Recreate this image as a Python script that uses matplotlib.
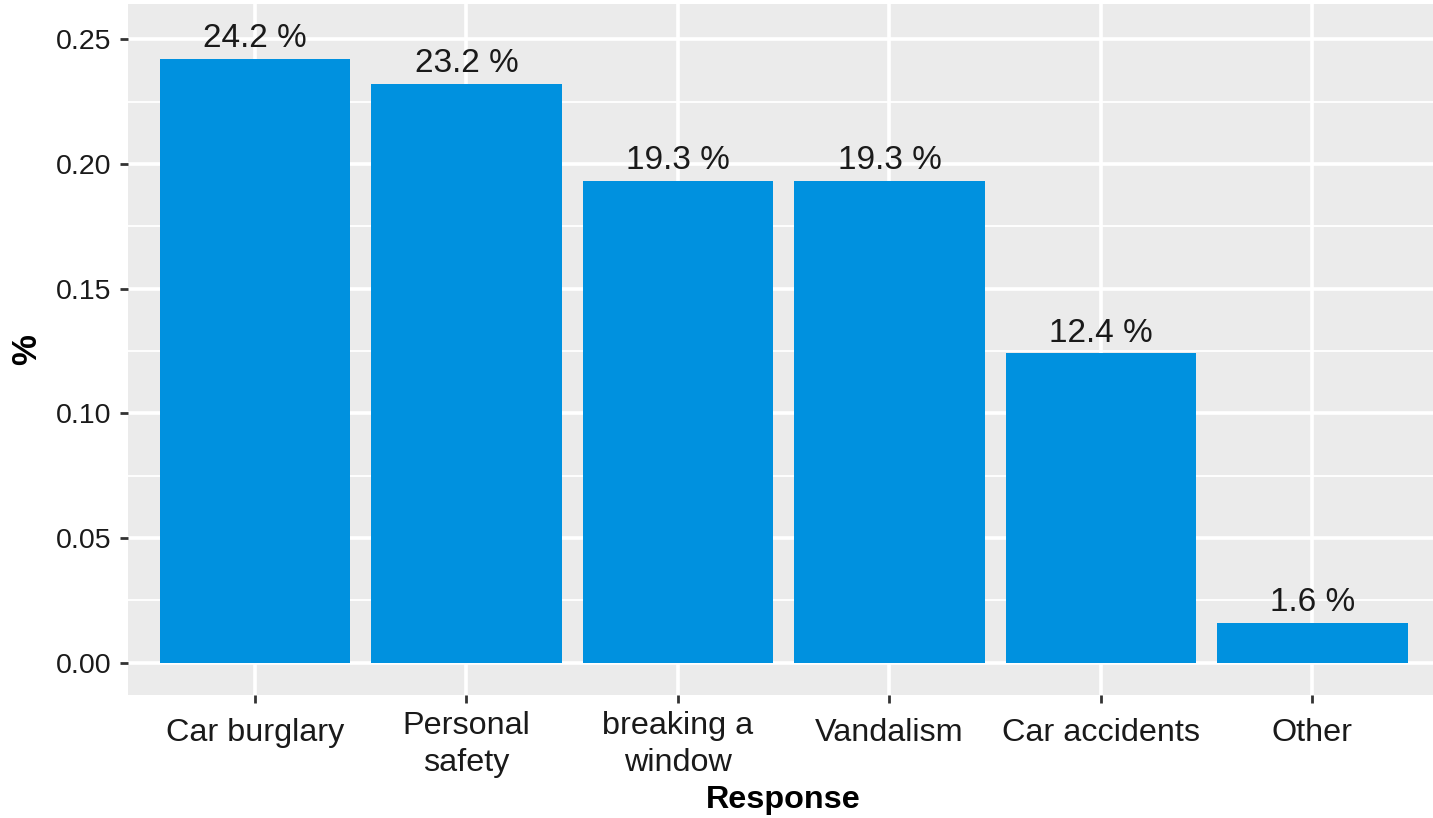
import matplotlib
matplotlib.use("Agg")
import matplotlib.pyplot as plt
from matplotlib.ticker import MultipleLocator
from matplotlib.transforms import ScaledTranslation

categories = ["Car burglary", "Personal\nsafety", "breaking a\nwindow", "Vandalism", "Car accidents", "Other"]
values = [0.242, 0.232, 0.193, 0.193, 0.124, 0.016]
labels = ["24.2 %", "23.2 %", "19.3 %", "19.3 %", "12.4 %", "1.6 %"]
yticks = [0.00, 0.05, 0.10, 0.15, 0.20, 0.25]
ytick_labels = ["0.00", "0.05", "0.10", "0.15", "0.20", "0.25"]

plt.rcParams['font.family'] = ['Liberation Sans', 'DejaVu Sans']

W, H = 1433, 818
fig = plt.figure(figsize=(W / 100, H / 100), dpi=100)
left, right, bottom, top = 128, 1439.4, 695, 4
ax = fig.add_axes([left / W, (H - bottom) / H, (right - left) / W, (bottom - top) / H])
ax.set_facecolor("#EBEBEB")

x = list(range(1, len(categories) + 1))
ax.bar(x, values, width=0.9, color="#0091DF", zorder=3)
for xi, v, lab in zip(x, values, labels):
    ax.annotate(lab, (xi, v), xytext=(0, 8.6), textcoords="offset points",
                ha="center", va="baseline", fontsize=24, color="#1a1a1a", zorder=4)

ax.set_xlim(0.4, 6.6)
ax.set_ylim(-0.0129, 0.2641)
ax.set_xticks(x)
ax.set_xticklabels(categories, fontsize=23.3, color="#1a1a1a", linespacing=1.27)
ax.set_yticks(yticks)
ax.set_yticklabels(ytick_labels, fontsize=20.5, color="#1a1a1a")
ax.yaxis.set_minor_locator(MultipleLocator(0.025))
ax.grid(which="major", color="white", linewidth=2.6, zorder=1)
ax.grid(which="minor", axis="y", color="white", linewidth=1.3, zorder=1)
ax.set_axisbelow(True)
ax.tick_params(which="major", length=5.8, width=2, color="#333333")
ax.tick_params(axis="x", pad=6)
ax.tick_params(axis="y", pad=6)
ax.tick_params(which="minor", length=0)
for s in ax.spines.values():
    s.set_visible(False)

# single-line category labels sit a bit lower, as in the reference
for lbl in ax.get_xticklabels():
    if "\n" not in lbl.get_text():
        lbl.set_transform(lbl.get_transform() + ScaledTranslation(0, -7 / 100, fig.dpi_scale_trans))

ax.set_xlabel("Response", fontsize=23.3, fontweight="bold", labelpad=5)
ax.set_ylabel("%", fontsize=25, fontweight="bold", labelpad=9)

fig.savefig("out.png", dpi=100)
